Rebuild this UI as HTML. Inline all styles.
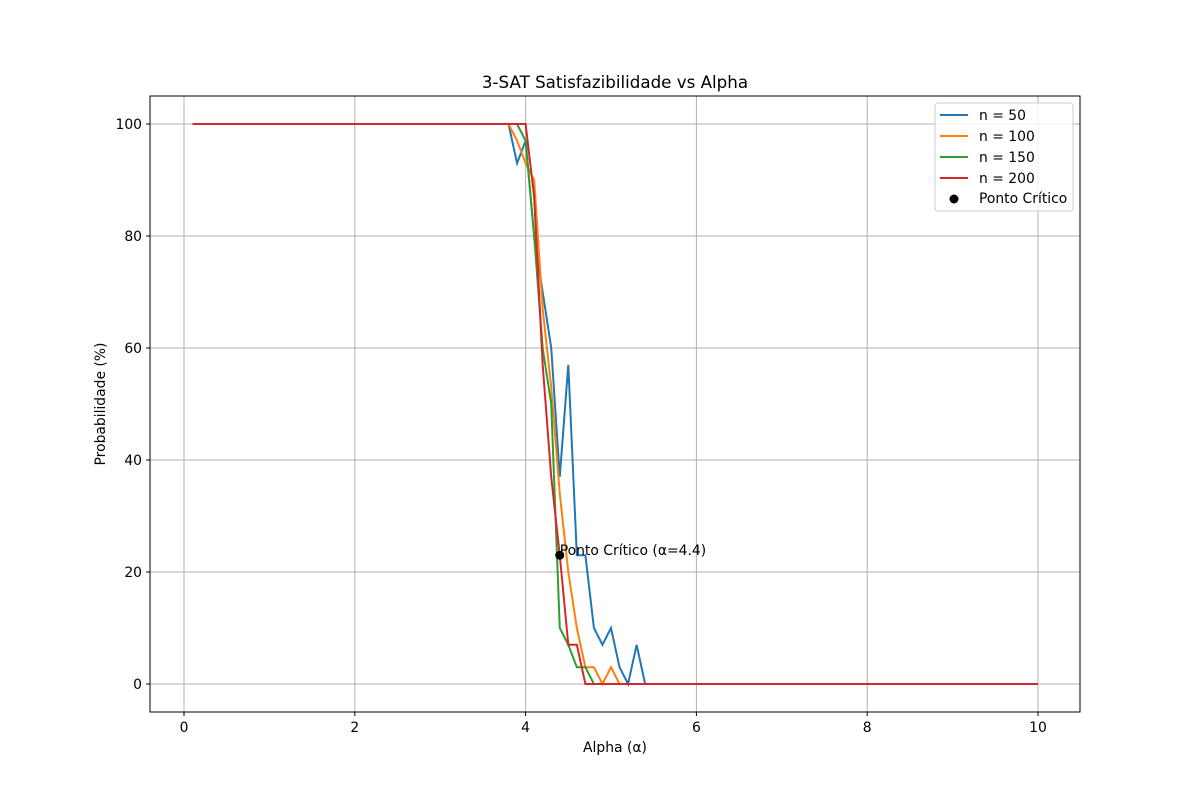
<!DOCTYPE html>
<html><head><meta charset="utf-8"><style>
body{margin:0;background:#fff;font-family:"Liberation Sans","DejaVu Sans",sans-serif}
text{font-family:"DejaVu Sans","Liberation Sans",sans-serif}
</style></head><body>
<svg id="c" width="1200" height="800">
<rect width="1200" height="800" fill="#fff"/>
<g id="grid"></g><g id="series"></g><g id="axes"></g>
<text x="615" y="88" text-anchor="middle" font-size="16.7">3-SAT Satisfazibilidade vs Alpha</text>
<text x="615" y="752" text-anchor="middle" font-size="13.9">Alpha (α)</text>
<text transform="translate(105,404) rotate(-90)" text-anchor="middle" font-size="13.9">Probabilidade (%)</text>
</svg>
<script>
const xTicks=[0,2,4,6,8,10];
const yTicks=[0,20,40,60,80,100];
const alphas=[];for(let i=1;i<=100;i++)alphas.push(+(i/10).toFixed(1));
const n50Trans=[100,93,97,80,70,60,37,57,23,23,10,7,10,3,0,7,0];
const n100Trans=[100,97,93,90,67,53,34,20,10,3,3,0,3,0];
const n150Trans=[100,100,97,80,60,50,10,7,3,3,0];
const n200Trans=[100,100,100,87,57,37,23,7,7,0];
const seriesNames=["n = 50","n = 100","n = 150","n = 200"];
const colors=["#1f77b4","#ff7f0e","#2ca02c","#d62728"];
const critical=[4.4,23];
function build(trans){return alphas.map(a=>{const k=Math.round((a-3.8)*10);if(k<0)return 100;if(k<trans.length)return trans[k];return 0;});}
const L=150,R=1080,T=96,B=712;
const X=v=>184+(v-0)*(1038-184)/10;
const Y=v=>684-v*5.6;
const NS="http://www.w3.org/2000/svg";
function mk(tag,attrs,parent){const e=document.createElementNS(NS,tag);for(const k in attrs)e.setAttribute(k,attrs[k]);parent.appendChild(e);return e;}
const grid=document.getElementById('grid'),axes=document.getElementById('axes'),ser=document.getElementById('series');
xTicks.forEach(t=>{
 const g=mk('line',{x1:X(t),x2:X(t),y1:T,y2:B,stroke:'#b0b0b0','stroke-width':1},grid);
 
 
 mk('line',{x1:X(t),x2:X(t),y1:B,y2:B+4,stroke:'#000'},axes);
 const tx=mk('text',{x:X(t),y:B+20,'text-anchor':'middle','font-size':13.9},axes);tx.textContent=t;
 
 
});
yTicks.forEach(t=>{
 const g=mk('line',{x1:L,x2:R,y1:Y(t),y2:Y(t),stroke:'#b0b0b0','stroke-width':1},grid);
 
 
 mk('line',{x1:L-4,x2:L,y1:Y(t),y2:Y(t),stroke:'#000'},axes);
 const tx=mk('text',{x:L-8,y:Y(t)+5,'text-anchor':'end','font-size':13.9},axes);tx.textContent=t;
 
 
});
const frame=mk('rect',{x:L,y:T,width:R-L,height:B-T,fill:'none',stroke:'#000','stroke-width':1},axes);


[n50Trans,n100Trans,n150Trans,n200Trans].forEach((tr,i)=>{
 const vals=build(tr);
 const p=mk('polyline',{points:alphas.map((a,j)=>X(a)+','+Y(vals[j])).join(' '),fill:'none',stroke:colors[i],'stroke-width':2},ser);
 
 
});
const dot=mk('circle',{cx:X(critical[0]),cy:Y(critical[1]),r:4.5,fill:'#000'},ser);


const lab=mk('text',{x:X(critical[0]),y:Y(critical[1])-0,'font-size':13.9},ser);lab.textContent='Ponto Crítico (α='+critical[0]+')';


const lg=mk('g',{},axes);


mk('rect',{x:935,y:103,width:138,height:108,rx:3,fill:'#fff','fill-opacity':0.8,stroke:'#ccc'},lg);
seriesNames.forEach((n,i)=>{
 const y=115+i*21;
 const ln=mk('line',{x1:940,x2:968,y1:y,y2:y,stroke:colors[i],'stroke-width':2},lg);
 
 
 const t=mk('text',{x:979,y:y+5,'font-size':13.9},lg);t.textContent=n;
 
 
});
mk('circle',{cx:954,cy:199,r:4.5,fill:'#000'},lg);
const lt=mk('text',{x:979,y:203,'font-size':13.9},lg);lt.textContent='Ponto Crítico';


</script>
</body></html>
